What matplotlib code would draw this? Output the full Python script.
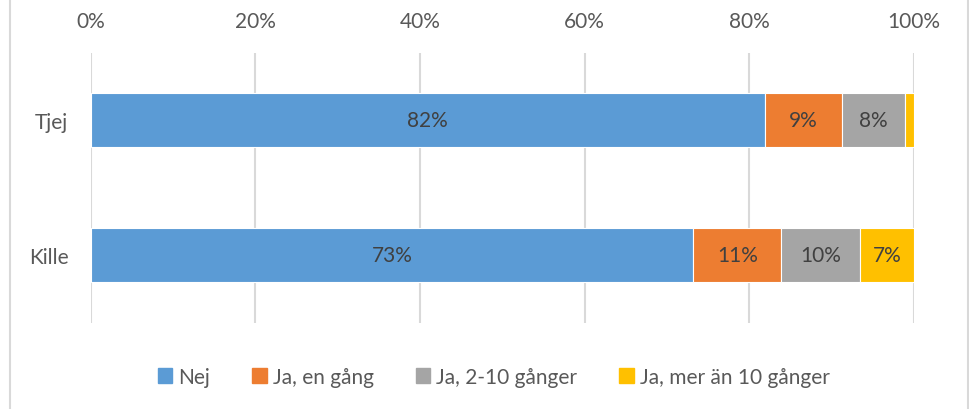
import matplotlib
matplotlib.use("Agg")
import matplotlib.pyplot as plt
from matplotlib.lines import Line2D
import numpy as np

categories = ["Tjej", "Kille"]
series_names = ["Nej", "Ja, en gång", "Ja, 2-10 gånger", "Ja, mer än 10 gånger"]
nej = [81.9, 73.2]
en_gang = [9.3, 10.7]
two_ten = [7.7, 9.5]
mer_an_10 = [1.1, 6.6]
bar_labels = [["82%", "73%"], ["9%", "11%"], ["8%", "10%"], ["", "7%"]]
tick_labels = ["0%", "20%", "40%", "60%", "80%", "100%"]
colors = ["#5B9BD5", "#ED7D31", "#A5A5A5", "#FFC000"]

plt.rcParams['font.family'] = ['Lato', 'DejaVu Sans']
text_color = "#595959"
fs = 15

fig = plt.figure(figsize=(9.7, 4.1), dpi=100)
ax = fig.add_axes([0.0933, 0.2098, 0.849, 0.6585])

data = [nej, en_gang, two_ten, mer_an_10]
y = np.arange(len(categories))
left = np.zeros(len(categories))
for vals, name, col, labs in zip(data, series_names, colors, bar_labels):
    vals = np.array(vals)
    bars = ax.barh(y, vals, left=left, height=0.4, color=col, label=name,
                   edgecolor="white", linewidth=0.8, zorder=3)
    for i, (b, lab) in enumerate(zip(bars, labs)):
        if lab:
            ax.text(left[i] + vals[i] / 2, y[i], lab, ha="center", va="center",
                    fontsize=fs, color="#404040", zorder=4)
    left = left + vals

ax.set_xlim(0, 100)
ax.set_ylim(1.5, -0.5)
ax.set_yticks(y)
ax.set_yticklabels(categories, fontsize=fs, color=text_color)
ax.set_xticks(np.arange(0, 101, 20))
ax.set_xticklabels(tick_labels, fontsize=fs, color=text_color)
ax.xaxis.tick_top()
ax.tick_params(axis="y", length=0, pad=16)
ax.tick_params(axis="x", length=0, pad=16)
ax.grid(axis="x", color="#D9D9D9", linewidth=1.5, zorder=0)
for s in ax.spines.values():
    s.set_visible(False)

handles = [plt.Rectangle((0, 0), 1, 1, color=c) for c in colors]
fig.legend(handles, series_names, loc="center", bbox_to_anchor=(0.509, 0.078),
           ncol=4, frameon=False, fontsize=fs, labelcolor=text_color,
           handlelength=0.7, handleheight=0.7, handletextpad=0.3, columnspacing=2.0)

fig.add_artist(Line2D([10.5 / 970, 10.5 / 970], [0, 1], transform=fig.transFigure,
                      color="#D9D9D9", linewidth=1.5))
fig.add_artist(Line2D([968.5 / 970, 968.5 / 970], [0, 1], transform=fig.transFigure,
                      color="#D9D9D9", linewidth=1.5))

fig.savefig("out.png", dpi=100)
